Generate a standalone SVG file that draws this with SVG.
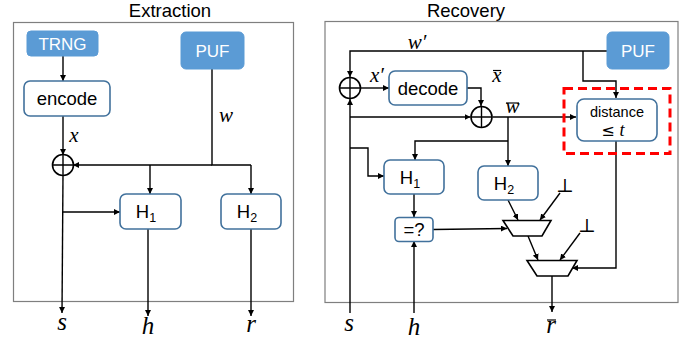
<svg xmlns="http://www.w3.org/2000/svg" width="695" height="341" viewBox="0 0 695 341">
  <defs>
    <marker id="ah" viewBox="0 0 6 6" refX="6" refY="3" markerWidth="6" markerHeight="6" markerUnits="userSpaceOnUse" orient="auto">
      <path d="M0,0 L6,3 L0,6 Z" fill="#000"/>
    </marker>
    <style>
      .frame { fill: #fff; stroke: #7f7f7f; stroke-width: 1.2; }
      .title { font-family: "Liberation Sans", Arial, sans-serif; font-size: 18.5px; fill: #000; text-anchor: middle; }
      .src { fill: #5b9bd5; stroke: #5b9bd5; stroke-width: 1; }
      .srct { font-family: "Liberation Sans", Arial, sans-serif; font-size: 17px; fill: #fff; text-anchor: middle; }
      .box { fill: #fff; stroke: #41719c; stroke-width: 1.6; }
      .boxt { font-family: "Liberation Sans", Arial, sans-serif; font-size: 18.5px; fill: #000; text-anchor: middle; }
      .sub { font-size: 12.5px; }
      .math { font-family: "Liberation Serif", "Times New Roman", serif; font-style: italic; font-size: 21px; fill: #000; text-anchor: middle; }
      .big { font-size: 25px; }
      .mathu { font-family: "DejaVu Sans", "Liberation Sans", sans-serif; font-size: 16px; fill: #000; text-anchor: middle; }
      .bot { font-family: "DejaVu Serif", "Liberation Serif", serif; font-size: 19px; fill: #000; text-anchor: middle; }
      .ln { fill: none; stroke: #000; stroke-width: 1.4; }
      .bar { fill: none; stroke: #000; stroke-width: 1.2; }
      .arr { fill: none; stroke: #000; stroke-width: 1.4; marker-end: url(#ah); }
      .xor { fill: #fff; stroke: #000; stroke-width: 1.6; }
      .mux { fill: #fff; stroke: #000; stroke-width: 1.6; }
      .dash { fill: none; stroke: #ff0000; stroke-width: 3; stroke-dasharray: 9 5; }
    </style>
  </defs>

  <!-- ===== Extraction panel ===== -->
  <text class="title" x="170" y="17">Extraction</text>
  <rect class="frame" x="13.5" y="22.5" width="280" height="279"/>

  <g id="connectors-extraction">
    <line class="arr" x1="63" y1="56" x2="63" y2="81"/>
    <line class="arr" x1="63" y1="116" x2="63" y2="155"/>
    <polyline class="ln" points="212,69 212,165 251,165"/>
    <line class="arr" x1="212" y1="165" x2="73" y2="165"/>
    <line class="arr" x1="150" y1="165" x2="150" y2="194"/>
    <line class="arr" x1="251" y1="165" x2="251" y2="194"/>
    <line class="arr" x1="63" y1="175" x2="62" y2="313"/>
    <line class="arr" x1="63" y1="212" x2="120" y2="212"/>
    <line class="arr" x1="148" y1="229" x2="148" y2="316"/>
    <line class="arr" x1="251" y1="229" x2="251" y2="316"/>
  </g>

  <g id="trng">
    <rect class="src" x="27" y="31" width="71" height="25" rx="4"/>
    <text class="srct" x="62.5" y="49.5">TRNG</text>
  </g>
  <g id="puf-e">
    <rect class="src" x="181" y="32" width="63" height="37" rx="5"/>
    <text class="srct" x="212.5" y="56.5">PUF</text>
  </g>
  <g id="encode">
    <rect class="box" x="24" y="81" width="86" height="35" rx="6"/>
    <text class="boxt" x="67" y="105">encode</text>
  </g>
  <g id="xor-e">
    <circle class="xor" cx="63" cy="165" r="10.5"/>
    <path class="ln" d="M52.5,165 H73.5 M63,154.5 V175.5"/>
  </g>
  <g id="h1-e">
    <rect class="box" x="120" y="194" width="61" height="35" rx="6"/>
    <text class="boxt" x="146" y="218">H<tspan class="sub" dy="4">1</tspan></text>
  </g>
  <g id="h2-e">
    <rect class="box" x="221" y="194" width="60" height="35" rx="6"/>
    <text class="boxt" x="247" y="218">H<tspan class="sub" dy="4">2</tspan></text>
  </g>
  <g id="labels-extraction">
    <text class="math" x="74" y="142">x</text>
    <text class="math" x="226" y="122">w</text>
    <text class="math big" x="62" y="330">s</text>
    <text class="math big" x="148" y="334">h</text>
    <text class="math big" x="251" y="332">r</text>
  </g>

  <!-- ===== Recovery panel ===== -->
  <text class="title" x="466" y="17">Recovery</text>
  <rect class="frame" x="325" y="21.5" width="353" height="281"/>

  <g id="connectors-recovery">
    <polyline class="arr" points="607,51 350,51 350,77"/>
    <polyline class="arr" points="583,51 583,81 616,81 616,98"/>
    <line class="arr" x1="361" y1="88" x2="389" y2="88"/>
    <polyline class="arr" points="467,88 481,88 481,106"/>
    <line class="arr" x1="350" y1="313" x2="350" y2="99"/>
    <line class="arr" x1="350" y1="117" x2="470.5" y2="117"/>
    <line class="arr" x1="492.5" y1="117" x2="576" y2="117"/>
    <line class="arr" x1="508" y1="117" x2="508" y2="166"/>
    <polyline class="arr" points="508,141 415,141 415,160"/>
    <polyline class="arr" points="350,148 368,148 368,176 384,176"/>
    <line class="arr" x1="414" y1="194" x2="414" y2="217"/>
    <line class="arr" x1="414" y1="313" x2="414" y2="241"/>
    <line class="arr" x1="433" y1="229.5" x2="507" y2="228.5"/>
    <line class="arr" x1="508" y1="200" x2="518" y2="220"/>
    <line class="arr" x1="560" y1="193" x2="540" y2="220"/>
    <line class="arr" x1="528" y1="236" x2="538" y2="260"/>
    <line class="arr" x1="580" y1="233" x2="560" y2="260"/>
    <polyline class="arr" points="616,141 616,268 572,268"/>
    <line class="arr" x1="552" y1="276" x2="552" y2="312"/>
  </g>

  <g id="puf-r">
    <rect class="src" x="607" y="32" width="62" height="37" rx="5"/>
    <text class="srct" x="638" y="56.5">PUF</text>
  </g>
  <g id="xor-r1">
    <circle class="xor" cx="350" cy="88" r="10.5"/>
    <path class="ln" d="M339.5,88 H360.5 M350,77.5 V98.5"/>
  </g>
  <g id="decode">
    <rect class="box" x="389" y="71" width="78" height="34" rx="6"/>
    <text class="boxt" x="428" y="94.5">decode</text>
  </g>
  <g id="xor-r2">
    <circle class="xor" cx="481.5" cy="117" r="10.5"/>
    <path class="ln" d="M471,117 H492 M481.5,106.5 V127.5"/>
  </g>
  <g id="distance">
    <rect class="box" x="577" y="99" width="80" height="42" rx="7"/>
    <text class="boxt" x="617" y="116.5" style="font-size:14.5px">distance</text>
    <text class="mathu" x="608" y="136" style="font-size:16px">≤</text>
    <text class="math" x="622" y="136" style="font-size:18px">t</text>
  </g>
  <rect id="highlight" class="dash" x="564" y="88.5" width="106" height="65"/>
  <g id="h1-r">
    <rect class="box" x="384" y="160" width="60" height="34" rx="6"/>
    <text class="boxt" x="410" y="183.5">H<tspan class="sub" dy="4">1</tspan></text>
  </g>
  <g id="h2-r">
    <rect class="box" x="478" y="166" width="60" height="34" rx="6"/>
    <text class="boxt" x="504" y="189.5">H<tspan class="sub" dy="4">2</tspan></text>
  </g>
  <g id="eq">
    <rect class="box" x="395" y="217.5" width="38" height="24" rx="4"/>
    <text class="boxt" x="414" y="236">=?</text>
  </g>
  <g id="mux1">
    <polygon class="mux" points="503,220.5 551,220.5 542,236 513,236"/>
  </g>
  <g id="mux2">
    <polygon class="mux" points="527,260.5 577,260.5 568,276 537,276"/>
  </g>
  <g id="labels-recovery">
    <text class="math" x="417" y="49">w′</text>
    <text class="math" x="377" y="82">x′</text>
    <text class="math" x="497" y="82">x</text>
    <line class="bar" x1="493" y1="70.5" x2="501" y2="70.5"/>
    <text class="math" x="512.5" y="113">w</text>
    <line class="bar" x1="506" y1="103" x2="519" y2="103"/>
    <text class="bot" x="565" y="192">⊥</text>
    <text class="bot" x="587" y="232">⊥</text>
    <text class="math big" x="349" y="331">s</text>
    <text class="math big" x="414" y="335">h</text>
    <text class="math big" x="551" y="333">r</text>
    <line class="bar" x1="547" y1="320" x2="556" y2="320"/>
  </g>
</svg>
